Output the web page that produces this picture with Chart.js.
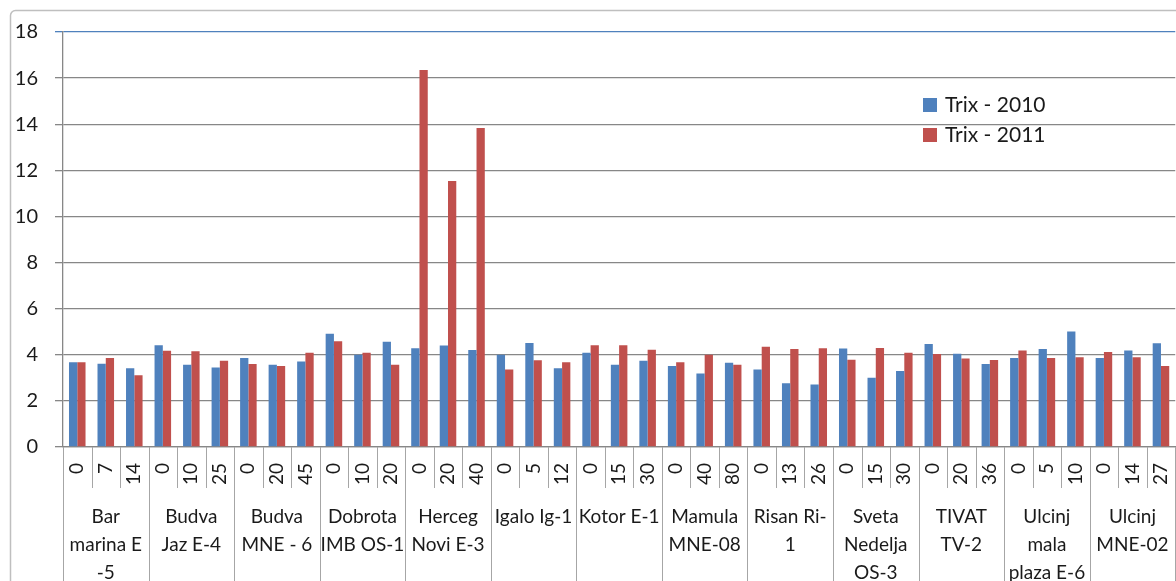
<!DOCTYPE html>
<html>
<head>
<meta charset="utf-8">
<script src="https://cdn.jsdelivr.net/npm/chart.js@4/dist/chart.umd.min.js"></script>
<style>
  html, body { margin: 0; padding: 0; background: #ffffff; overflow: hidden; }
  #wrap { width: 1176px; height: 581px; overflow: hidden; position: relative; }
  canvas { position: absolute; left: 0; top: 0; }
</style>
</head>
<body>
<div id="wrap"><canvas id="chart" width="1200" height="640"></canvas></div>
<script>
// Sampling depths (m) at each station
const depths = ['0','7','14','0','10','25','0','20','45','0','10','20','0','20','40',
  '0','5','12','0','15','30','0','40','80','0','13','26','0','15','30',
  '0','20','36','0','5','10','0','14','27'];

// Station names, one entry per group of three depths, already split into lines
const stations = [
  ['Bar', 'marina E', '-5'],
  ['Budva', 'Jaz E-4'],
  ['Budva', 'MNE - 6'],
  ['Dobrota', 'IMB OS-1'],
  ['Herceg', 'Novi E-3'],
  ['Igalo Ig-1'],
  ['Kotor E-1'],
  ['Mamula', 'MNE-08'],
  ['Risan Ri-', '1'],
  ['Sveta', 'Nedelja', 'OS-3'],
  ['TIVAT', 'TV-2'],
  ['Ulcinj', 'mala', 'plaza E-6'],
  ['Ulcinj', 'MNE-02']
];

const trix2010 = [3.68,3.61,3.42, 4.41,3.57,3.45, 3.86,3.57,3.71, 4.91,4.00,4.57,
  4.28,4.40,4.21, 4.00,4.51,3.42, 4.09,3.57,3.74, 3.51,3.19,3.65,
  3.36,2.77,2.71, 4.27,3.00,3.30, 4.47,4.05,3.60, 3.86,4.25,5.01,
  3.86,4.19,4.50];

const trix2011 = [3.68,3.86,3.11, 4.18,4.15,3.74, 3.60,3.51,4.09, 4.59,4.09,3.57,
  16.35,11.54,13.84, 3.36,3.76,3.68, 4.41,4.41,4.22, 3.68,4.00,3.57,
  4.35,4.25,4.28, 3.78,4.29,4.09, 4.03,3.84,3.77, 4.19,3.86,3.89,
  4.12,3.89,3.51];

const seriesLabels = ['Trix - 2010', 'Trix - 2011'];
const seriesColors = ['#4F81BD', '#C0504D'];

const FONT = 'Lato, "Liberation Sans", sans-serif';
const GRID = '#878787';
const AXIS_BOTTOM = 447;

// Outer frame of the chart object
const framePlugin = {
  id: 'frame',
  beforeDraw(chart) {
    const ctx = chart.ctx;
    ctx.save();
    ctx.strokeStyle = '#bfbfbf';
    ctx.lineWidth = 1.5;
    ctx.beginPath();
    ctx.roundRect(10.5, 10.5, 1400, 900, 5);
    ctx.stroke();
    ctx.restore();
  }
};

// Two-level category axis: depth separators plus station groups
const groupAxisPlugin = {
  id: 'groupAxis',
  afterDraw(chart) {
    const ctx = chart.ctx;
    const x = chart.scales.x;
    const n = depths.length;
    const step = (x.getPixelForValue(1) - x.getPixelForValue(0));
    const top = chart.chartArea.bottom;
    ctx.save();
    ctx.strokeStyle = '#a6a6a6';
    ctx.lineWidth = 1;
    for (let i = 0; i <= n; i++) {
      const px = Math.round(x.getPixelForValue(i) - step / 2) + 0.5;
      const isGroup = i % 3 === 0;
      ctx.beginPath();
      ctx.moveTo(px, top);
      ctx.lineTo(px, isGroup ? chart.height : top + 41);
      ctx.stroke();
    }
    ctx.fillStyle = '#1a1a1a';
    ctx.font = '19px ' + FONT;
    ctx.textAlign = 'center';
    ctx.textBaseline = 'middle';
    stations.forEach((lines, g) => {
      const cx = x.getPixelForValue(g * 3 + 1);
      lines.forEach((t, k) => ctx.fillText(t, cx, 517 + k * 28));
    });
    ctx.restore();
  }
};

// Legend placed inside the plot area
const insideLegendPlugin = {
  id: 'insideLegend',
  afterDraw(chart) {
    const ctx = chart.ctx;
    ctx.save();
    ctx.font = '21px ' + FONT;
    ctx.textBaseline = 'middle';
    ctx.textAlign = 'left';
    chart.data.datasets.forEach((ds, i) => {
      const cy = 105 + i * 30;
      ctx.fillStyle = ds.backgroundColor;
      ctx.fillRect(923, cy - 7, 14, 14);
      ctx.fillStyle = '#1a1a1a';
      ctx.fillText(ds.label, 945, cy);
    });
    ctx.restore();
  }
};

new Chart(document.getElementById('chart'), {
  type: 'bar',
  data: {
    labels: depths,
    datasets: [
      { label: seriesLabels[0], data: trix2010, backgroundColor: seriesColors[0] },
      { label: seriesLabels[1], data: trix2011, backgroundColor: seriesColors[1] }
    ]
  },
  options: {
    responsive: false,
    animation: false,
    devicePixelRatio: 1,
    layout: { padding: { left: 0, top: 32, right: 18, bottom: 0 } },
    datasets: { bar: { categoryPercentage: 0.58, barPercentage: 1.0 } },
    plugins: { legend: { display: false }, tooltip: { enabled: false } },
    scales: {
      x: {
        afterFit(scale) { scale.height = 640 - AXIS_BOTTOM; },
        grid: { drawOnChartArea: false, drawTicks: false },
        border: { display: true, color: GRID, width: 1.3 },
        ticks: {
          autoSkip: false, minRotation: 90, maxRotation: 90, padding: 16,
          color: '#1a1a1a', font: { family: FONT, size: 19 }
        }
      },
      y: {
        min: 0, max: 18,
        afterFit(scale) { scale.width = 63; },
        grid: {
          color: (c) => (c.tick && c.tick.value === 18 ? '#4F81BD' : GRID),
          lineWidth: 1.3, tickLength: 8
        },
        border: { display: true, color: GRID, width: 1.3 },
        ticks: {
          stepSize: 2, padding: 17, color: '#1a1a1a',
          font: { family: FONT, size: 20 }
        }
      }
    }
  },
  plugins: [framePlugin, groupAxisPlugin, insideLegendPlugin]
});
</script>
</body>
</html>
